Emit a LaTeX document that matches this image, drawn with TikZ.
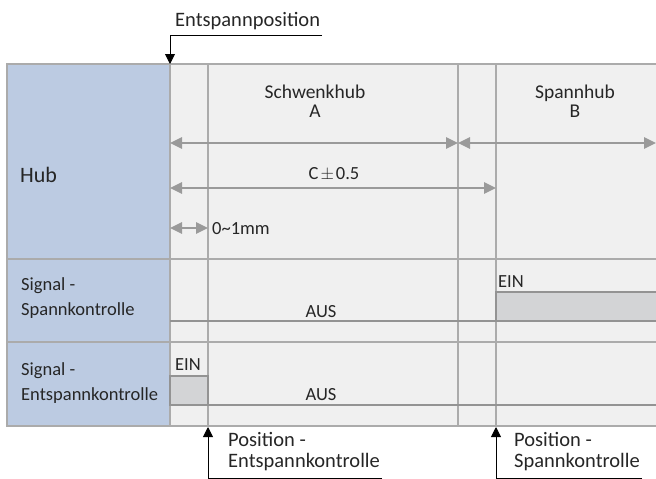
\documentclass[tikz,border=0pt]{standalone}
\usepackage{fontspec}
\setmainfont{Carlito}
\usetikzlibrary{arrows.meta}

\definecolor{panelgray}{HTML}{F0F0F0}
\definecolor{hubblue}{HTML}{BCCBE2}
\definecolor{gridgray}{HTML}{ABABAB}
\definecolor{sigline}{HTML}{939393}
\definecolor{einfill}{HTML}{D3D4D6}
\definecolor{arrowgray}{HTML}{9A9A9A}
\definecolor{textgray}{HTML}{262626}

\tikzset{
    gridline/.style={draw=gridgray, line width=1.3pt},
    signal/.style={draw=sigline, line width=2.8pt},
    einbox/.style={signal, fill=einfill},
    dimarrow/.style={draw=arrowgray, line width=2.6pt,
        {Triangle[length=12pt,width=11pt]}-{Triangle[length=12pt,width=11pt]}},
    callout/.style={draw=black, line width=0.9pt, -{Triangle[length=10pt,width=10pt]}},
    lbl/.style={text=textgray, inner sep=0pt, font=\fontsize{18.5}{19}\selectfont},
    rowlbl/.style={text=textgray, inner sep=0pt, align=left, font=\fontsize{18.5}{25}\selectfont},
    calllbl/.style={text=textgray, inner sep=0pt, align=left, font=\fontsize{20.5}{21}\selectfont}
}

\begin{document}
\begin{tikzpicture}[x=1pt,y=-1pt]
    \useasboundingbox (0,0) rectangle (656,479);

    % Table
    \fill[panelgray] (7,64) rectangle (656,426);
    \fill[hubblue] (7,64) rectangle (170,426);
    \foreach \y in {259,342} \draw[gridline] (7,\y) -- (656,\y);
    \foreach \x in {170,208,458,496} \draw[gridline] (\x,64) -- (\x,426);
    \draw[gridline] (656,64) -- (7,64) -- (7,426) -- (656,426);

    % Row labels
    \node[text=textgray, inner sep=0pt, anchor=base west, font=\fontsize{22}{22}\selectfont] (hub) at (20,182) {Hub};
    \node[rowlbl, anchor=west] (sig1) at (21,298) {Signal -\\Spannkontrolle};
    \node[rowlbl, anchor=west] (sig2) at (21,383) {Signal -\\Entspannkontrolle};

    % Strokes
    \coordinate (a0) at (170,143);
    \coordinate (a1) at (458,143);
    \coordinate (b1) at (656,143);
    \coordinate (c0) at (170,188);
    \coordinate (c1) at (496,188);
    \coordinate (d0) at (170,228);
    \coordinate (d1) at (208,228);
    \draw[dimarrow] (a0) -- (a1);
    \draw[dimarrow] (a1) -- (b1);
    \draw[dimarrow] (c0) -- (c1);
    \draw[dimarrow] (d0) -- (d1);
    \node[lbl, align=center, anchor=base, font=\fontsize{19.5}{19}\selectfont] (schwenk) at (315,117) {Schwenkhub\\A};
    \node[lbl, align=center, anchor=base, font=\fontsize{19.5}{19}\selectfont] (spann) at (575,117) {Spannhub\\B};
    \node[lbl, anchor=base] (ctol) at (334,179) {C\kern2pt$\pm$\kern2pt0.5};
    \node[lbl, anchor=west] (range) at (212,229) {0\textasciitilde1mm};

    % Signal - Spannkontrolle
    \draw[signal] (170,321) -- (496,321);
    \draw[einbox] (496,321) -- (496,292) -- (660,292) -- (660,321) -- cycle;
    \node[lbl, anchor=base] (aus1) at (321,317) {AUS};
    \node[lbl, anchor=base west] (ein1) at (498,287) {EIN};

    % Signal - Entspannkontrolle
    \draw[einbox] (170,376) rectangle (208,405);
    \draw[signal] (208,405) -- (660,405);
    \node[lbl, anchor=base] (aus2) at (321,400) {AUS};
    \node[lbl, anchor=base west] (ein2) at (175,370) {EIN};

    % Positions
    \coordinate (top0) at (322,35);
    \coordinate (top1) at (170,35);
    \coordinate (top2) at (170,64);
    \draw[callout] (top0) -- (top1) -- (top2);
    \node[calllbl, anchor=base west] (entsp) at (175,26) {Entspannposition};

    \coordinate (bl0) at (382,478);
    \coordinate (bl1) at (208,478);
    \coordinate (bl2) at (208,427);
    \draw[callout] (bl0) -- (bl1) -- (bl2);
    \node[calllbl, anchor=west] (posent) at (228,452) {Position -\\Entspannkontrolle};

    \coordinate (br0) at (642,478);
    \coordinate (br1) at (496,478);
    \coordinate (br2) at (496,427);
    \draw[callout] (br0) -- (br1) -- (br2);
    \node[calllbl, anchor=west] (posspann) at (514,452) {Position -\\Spannkontrolle};
\end{tikzpicture}
\end{document}
